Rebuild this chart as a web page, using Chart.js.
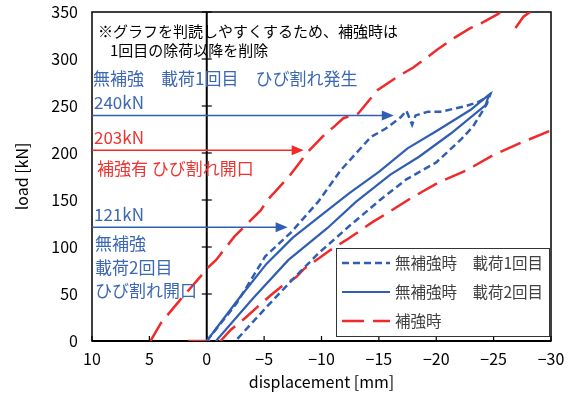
<!DOCTYPE html>
<html>
<head>
<meta charset="utf-8">
<script src="https://cdn.jsdelivr.net/npm/chart.js@4/dist/chart.umd.min.js"></script>
<style>
  html, body { margin: 0; padding: 0; background: #fff; }
  #wrap { width: 574px; height: 396px; }
</style>
</head>
<body>
<div id="wrap"><canvas id="c" width="574" height="396"></canvas></div>
<script>
// ---- data -------------------------------------------------------------
const seriesLabels = ['無補強時　載荷1回目', '無補強時　載荷2回目', '補強時'];

// unreinforced, 1st loading (up the upper path, back down the lower path)
const disp1 = [0, -2.6, -5.1, -7.3, -9.7, -11.7, -14.3, -15.6, -16.9, -17.4, -17.9, -18.2, -19.3, -20.5, -21.5, -22.6, -23.6, -24.4, -24.7,
               -24.4, -23.2, -22.2, -20.0, -17.4, -15.1, -12.4, -9.8, -8.0, -5.2, -2.5];
const load1 = [0, 40, 90, 115, 148, 182, 217, 226, 238, 245, 230, 240, 244, 244, 247, 250, 254, 259, 262,
               252, 228, 215, 190, 172, 150, 122, 94, 72, 36, 0];

// unreinforced, 2nd loading
const disp2 = [0, -2.6, -5.2, -7.5, -9.9, -12.4, -15.0, -17.5, -20.1, -23.0, -24.1, -24.6,
               -24.3, -21.3, -18.5, -16.0, -13.0, -10.5, -7.1, -4.0, -0.8];
const load2 = [0, 42, 82, 110, 133, 157, 180, 205, 224, 246, 257, 262,
               251, 221, 196, 177, 148, 120, 86, 45, 0];

// reinforced (upper branch, a short strand near the top, and the lower branch are separate runs)
const dispR = [4.9, 4.0, 2.3, 0.8, -0.1, -0.8, -2.4, -4.7, -5.3, -7.1, -8.8, -10.3, -11.1, -11.9, -13.2, -14.9, -16.6, -18.0, -18.9, -20.1, -21.5, -23.0, -23.9, -25.4, -25.9,
               null,
               -26.9, -27.6, -28.4,
               null,
               1.6, -1.2, -2.1, -3.4, -4.3, -5.6, -6.4, -7.8, -8.5, -9.9, -10.8, -12.1, -13.2, -14.5, -15.2, -17.8, -20.1, -22.7, -25.0, -27.4, -30.2];
const loadR = [0, 19, 44, 65, 78, 86, 111, 139, 150, 174, 201, 220, 228, 237, 242, 267, 281, 291, 299, 310, 322, 333, 338, 348, 353,
               null,
               333, 345, 352,
               null,
               0, 0, 12, 25, 35, 49, 57, 68, 77, 89, 97, 107, 116, 127, 132, 152, 168, 182, 198, 211, 225];

// axes
const xMin = -30, xMax = 10, xStep = 5;
const yMin = 0, yMax = 350, yStep = 50;

// crack markers: load level, displacement where the arrow ends, label
const markerLoads = [240, 203, 121];
const markerArrowDisp = [-16.3, -8.45, -7.05];
const markerLabels = ['240kN', '203kN', '121kN'];

// ---- styles -----------------------------------------------------------
const BLUE = '#2f5eb3';
const BLUE_TEXT = '#3b67b5';
const RED = '#f02a2a';
const RED_TEXT = '#ee3330';
const JP = '"Noto Sans CJK JP", "Noto Sans", sans-serif';

const pts = (xs, ys) => xs.map((x, i) => ({ x: x, y: ys[i] }));

const datasets = [
  { label: seriesLabels[0], data: pts(disp1, load1), borderColor: BLUE, borderWidth: 2.5, borderDash: [7, 4] },
  { label: seriesLabels[1], data: pts(disp2, load2), borderColor: BLUE, borderWidth: 2.2, borderDash: [] },
  { label: seriesLabels[2], data: pts(dispR, loadR), borderColor: RED, borderWidth: 2.5, borderDash: [22, 9] }
].map(d => Object.assign(d, { showLine: true, pointRadius: 0, fill: false, tension: 0, spanGaps: false }));

// ---- frame, axis through x = 0, tick marks ---------------------------
const framePlugin = {
  id: 'frame',
  beforeDatasetsDraw(chart) {
    const { ctx, chartArea: a, scales: { x, y } } = chart;
    ctx.save();
    ctx.strokeStyle = '#000';
    ctx.lineWidth = 1.5;
    ctx.strokeRect(a.left, a.top, a.right - a.left, a.bottom - a.top);
    // bottom axis
    ctx.lineWidth = 2;
    ctx.beginPath(); ctx.moveTo(a.left, a.bottom); ctx.lineTo(a.right, a.bottom); ctx.stroke();
    // vertical axis through displacement 0
    const x0 = x.getPixelForValue(0);
    ctx.beginPath(); ctx.moveTo(x0, a.top); ctx.lineTo(x0, a.bottom); ctx.stroke();
    ctx.lineWidth = 1.2;
    y.ticks.forEach(t => {
      const py = y.getPixelForValue(t.value);
      ctx.beginPath(); ctx.moveTo(x0 - 5, py); ctx.lineTo(x0 + 5, py); ctx.stroke();
    });
    x.ticks.forEach(t => {
      const px = x.getPixelForValue(t.value);
      ctx.beginPath(); ctx.moveTo(px, a.bottom); ctx.lineTo(px, a.bottom - 5); ctx.stroke();
    });
    ctx.restore();
  }
};

// ---- notes, crack markers, legend --------------------------------------
function arrow(ctx, x1, x2, y, color) {
  ctx.strokeStyle = color; ctx.fillStyle = color; ctx.lineWidth = 1.5;
  ctx.beginPath(); ctx.moveTo(x1, y); ctx.lineTo(x2 - 10, y); ctx.stroke();
  ctx.beginPath(); ctx.moveTo(x2, y); ctx.lineTo(x2 - 12, y - 5); ctx.lineTo(x2 - 12, y + 5); ctx.closePath(); ctx.fill();
}

const notePlugin = {
  id: 'notes',
  afterDatasetsDraw(chart) {
    const { ctx, chartArea: a, scales: { x, y } } = chart;
    ctx.save();
    ctx.textBaseline = 'middle';
    ctx.textAlign = 'left';

    ctx.fillStyle = '#000';
    ctx.font = '15px ' + JP;
    ctx.fillText('※グラフを判読しやすくするため、補強時は', a.left + 6, a.top + 19);
    ctx.fillText('1回目の除荷以降を削除', a.left + 18, a.top + 38);

    const colors = [BLUE, RED, BLUE];
    const textColors = [BLUE_TEXT, RED_TEXT, BLUE_TEXT];
    markerLoads.forEach((v, i) => {
      const py = y.getPixelForValue(v);
      arrow(ctx, a.left, x.getPixelForValue(markerArrowDisp[i]), py, colors[i]);
      ctx.fillStyle = textColors[i];
      ctx.font = '17px ' + JP;
      ctx.fillText(markerLabels[i], a.left + 2, py - 13);
    });

    ctx.font = '17px ' + JP;
    ctx.fillStyle = BLUE_TEXT;
    ctx.fillText('無補強　載荷1回目　ひび割れ発生', a.left + 1, a.top + 67);
    ctx.fillStyle = RED_TEXT;
    ctx.fillText('補強有 ひび割れ開口', a.left + 5, y.getPixelForValue(203) + 18);
    ctx.fillStyle = BLUE_TEXT;
    const p121 = y.getPixelForValue(121);
    ctx.fillText('無補強', a.left + 3, p121 + 16);
    ctx.fillText('載荷2回目', a.left + 3, p121 + 40);
    ctx.fillText('ひび割れ開口', a.left + 3, p121 + 63);

    // legend
    const bx = a.right - 215, by = a.bottom - 93, bw = 214, bh = 89;
    ctx.fillStyle = '#fff';
    ctx.fillRect(bx, by, bw, bh);
    ctx.strokeStyle = '#333'; ctx.lineWidth = 1;
    ctx.strokeRect(bx + 0.5, by + 0.5, bw - 1, bh - 1);
    chart.data.datasets.forEach((d, i) => {
      const ry = by + 15 + i * 29;
      ctx.strokeStyle = d.borderColor; ctx.lineWidth = d.borderWidth;
      ctx.setLineDash(d.borderDash);
      ctx.beginPath(); ctx.moveTo(bx + 6, ry); ctx.lineTo(bx + 54, ry); ctx.stroke();
      ctx.setLineDash([]);
      ctx.fillStyle = '#404040';
      ctx.font = '15.5px ' + JP;
      ctx.fillText(d.label, bx + 59, ry);
    });
    ctx.restore();
  }
};

new Chart(document.getElementById('c'), {
  type: 'scatter',
  data: { datasets: datasets },
  options: {
    responsive: false,
    devicePixelRatio: 1,
    animation: false,
    layout: { padding: { top: 12, right: 23, left: 0, bottom: 0 } },
    plugins: { legend: { display: false }, tooltip: { enabled: false } },
    scales: {
      x: {
        type: 'linear', reverse: true, min: xMin, max: xMax,
        ticks: { stepSize: xStep, color: '#000', padding: 8, font: { size: 16, family: JP },
                 callback: v => String(v).replace('-', '\u2212') },
        grid: { display: false, drawTicks: false },
        border: { display: false },
        title: { display: true, text: 'displacement [mm]', color: '#000', font: { size: 16, family: JP }, padding: { top: 0, bottom: 4 } },
        afterFit: s => { s.height = 55; s.paddingLeft = 0; s.paddingRight = 0; }
      },
      y: {
        type: 'linear', min: yMin, max: yMax,
        ticks: { stepSize: yStep, color: '#000', padding: 14, font: { size: 16, family: JP } },
        grid: { display: false, drawTicks: false },
        border: { display: false },
        title: { display: true, text: 'load [kN]', color: '#000', font: { size: 16, family: JP }, padding: { top: 12, bottom: 0 } },
        afterFit: s => { s.width = 92; s.paddingTop = 0; s.paddingBottom = 0; }
      }
    }
  },
  plugins: [framePlugin, notePlugin]
});
</script>
</body>
</html>
